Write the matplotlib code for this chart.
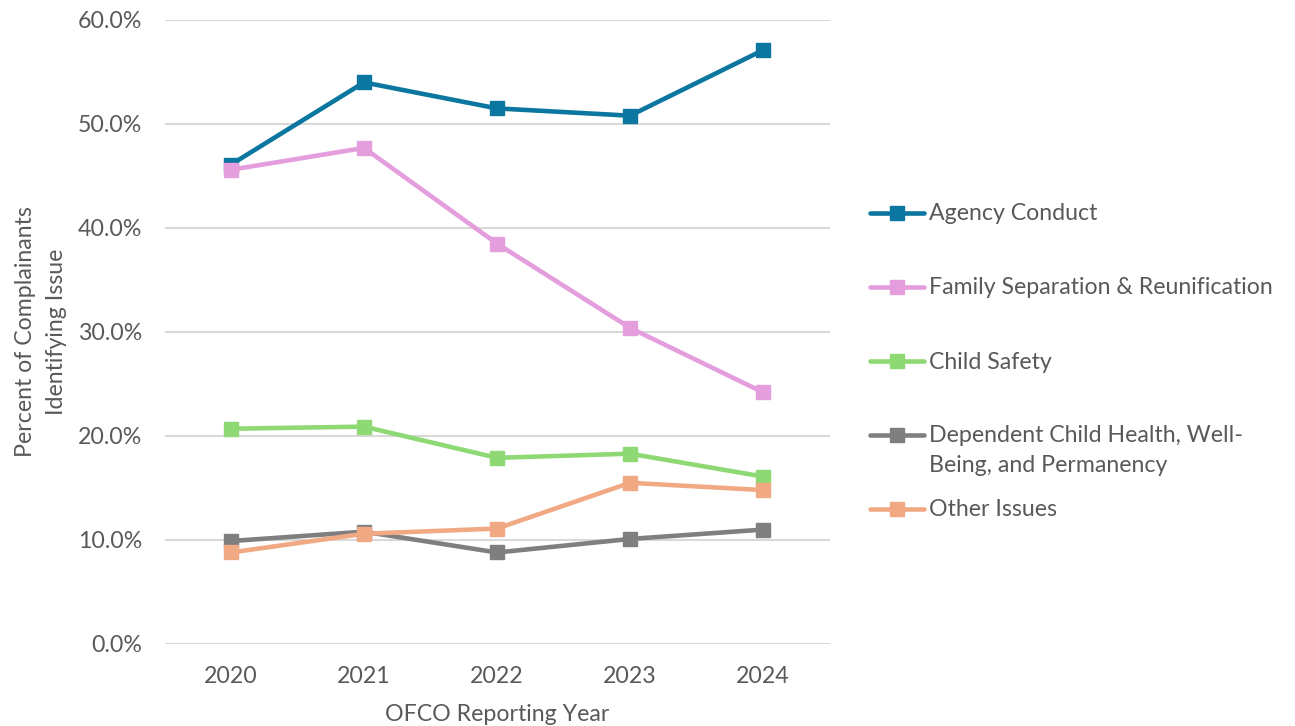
import matplotlib
matplotlib.use("Agg")
import matplotlib.pyplot as plt
from matplotlib.lines import Line2D
from matplotlib.ticker import FuncFormatter

plt.rcParams["font.family"] = ["Lato", "DejaVu Sans"]

years = ["2020", "2021", "2022", "2023", "2024"]
agency_conduct = [46.1, 54.0, 51.5, 50.8, 57.1]
family_separation = [45.6, 47.7, 38.5, 30.4, 24.2]
child_safety = [20.7, 20.9, 17.9, 18.3, 16.1]
dependent_child = [9.9, 10.8, 8.8, 10.1, 11.0]
other_issues = [8.8, 10.6, 11.1, 15.5, 14.8]

series_names = [
    "Agency Conduct",
    "Family Separation & Reunification",
    "Child Safety",
    "Dependent Child Health, Well-\nBeing, and Permanency",
    "Other Issues",
]
series_values = [agency_conduct, family_separation, child_safety,
                 dependent_child, other_issues]
colors = ["#0B76A0", "#E49EDD", "#8ED973", "#7F7F7F", "#F1A983"]

text_color = "#595959"
grid_color = "#D9D9D9"
fs = 16.7

W, H = 1295, 726
fig = plt.figure(figsize=(W / 100, H / 100), dpi=100)
ax = fig.add_axes([164.5 / W, 1 - 644 / H, 665 / W, 624 / H])

x = list(range(len(years)))
for vals, col in zip(series_values, colors):
    ax.plot(x, vals, color=col, lw=3.3, marker="s", markersize=10.5,
            solid_capstyle="round", solid_joinstyle="round", zorder=3)

ax.set_xlim(-0.5, len(years) - 0.5)
ax.set_ylim(0, 60)
ax.set_yticks(range(0, 61, 10))
ax.yaxis.set_major_formatter(FuncFormatter(lambda v, p: f"{v:.1f}%"))
ax.set_xticks(x)
ax.set_xticklabels(years)
ax.grid(axis="y", color=grid_color, lw=1.5, zorder=0)
ax.grid(axis="x", visible=False)
for s in ax.spines.values():
    s.set_visible(False)
ax.tick_params(axis="both", length=0, labelsize=fs, labelcolor=text_color)
ax.tick_params(axis="y", pad=16)
ax.tick_params(axis="x", pad=16)
ax.set_axisbelow(True)

ax.set_xlabel("OFCO Reporting Year", fontsize=fs, color=text_color, labelpad=12)
ax.set_ylabel("Percent of Complainants\nIdentifying Issue", fontsize=fs,
              color=text_color, labelpad=8, linespacing=1.55)

# legend drawn as a column of line/marker samples with labels
legend_rows = [213, 287, 361, 435, 509]
for name, col, yy in zip(series_names, colors, legend_rows):
    yf = 1 - yy / H
    fig.add_artist(Line2D([870 / W, 924 / W], [yf, yf], color=col, lw=3.3,
                          solid_capstyle="round", transform=fig.transFigure))
    fig.add_artist(Line2D([897 / W], [yf], color=col, marker="s",
                          markersize=10.5, transform=fig.transFigure))
    if "\n" in name:
        fig.text(929 / W, 1 - (yy - 10) / H, name, fontsize=fs,
                 color=text_color, va="top", ha="left", linespacing=1.5)
    else:
        fig.text(929 / W, 1 - (yy + 1) / H, name, fontsize=fs,
                 color=text_color, va="center", ha="left")

fig.savefig("out.png", dpi=100, facecolor="white")
